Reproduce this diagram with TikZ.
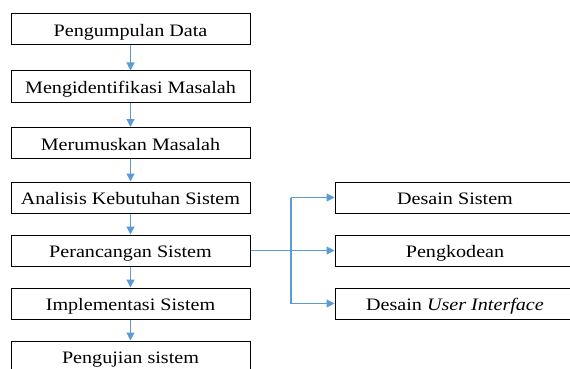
\documentclass[tikz,border=0pt]{standalone}
\usepackage{fontspec}
\setmainfont{Liberation Serif}[FakeStretch=1.15]
\usetikzlibrary{arrows.meta}
\definecolor{flowblue}{HTML}{5B9BD5}
\tikzset{
  stepbox/.style={draw=black, line width=1pt, minimum width=239pt, minimum height=31pt,
    inner sep=0pt, text height=15.5pt, text depth=1.3pt, font=\fontsize{17.5}{20}\selectfont},
  flow/.style={draw=flowblue, line width=1.2pt, -{Triangle[width=8pt,length=8pt]}},
  link/.style={draw=flowblue, line width=1.2pt}
}
\begin{document}
\begin{tikzpicture}[x=1pt, y=-1pt]
  \useasboundingbox (0,0) rectangle (570,369);
  \clip (0,0) rectangle (570,369);
  % main sequence
  \node[stepbox] (s1) at (130.5,29.5) {Pengumpulan Data};
  \node[stepbox] (s2) at (130.5,86.5) {Mengidentifikasi Masalah};
  \node[stepbox] (s3) at (130.5,143) {Merumuskan Masalah};
  \node[stepbox] (s4) at (130.5,197.5) {Analisis Kebutuhan Sistem};
  \node[stepbox] (s5) at (130.5,250.5) {Perancangan Sistem};
  \node[stepbox] (s6) at (130.5,303.5) {Implementasi Sistem};
  \node[stepbox] (s7) at (130.5,356.5) {Pengujian sistem};
  % design sub-steps
  \node[stepbox, minimum width=240pt] (d1) at (455,197.5) {Desain Sistem};
  \node[stepbox, minimum width=240pt] (d2) at (455,250.5) {Pengkodean};
  \node[stepbox, minimum width=240pt] (d3) at (455,303.5) {Desain \textit{User Interface}};
  % arrows between steps
  \foreach \a/\b in {s1/s2, s2/s3, s3/s4, s4/s5, s5/s6, s6/s7}
    \draw[flow] (\a.south) -- (\b.north);
  % branching from the design step
  \coordinate (fork) at (291,250.5);
  \draw[flow] (s5.east) -- (d2.west);
  \draw[link] (fork |- d1.west) -- (fork |- d3.west);
  \draw[flow] (fork |- d1.west) -- (d1.west);
  \draw[flow] (fork |- d3.west) -- (d3.west);
\end{tikzpicture}
\end{document}
